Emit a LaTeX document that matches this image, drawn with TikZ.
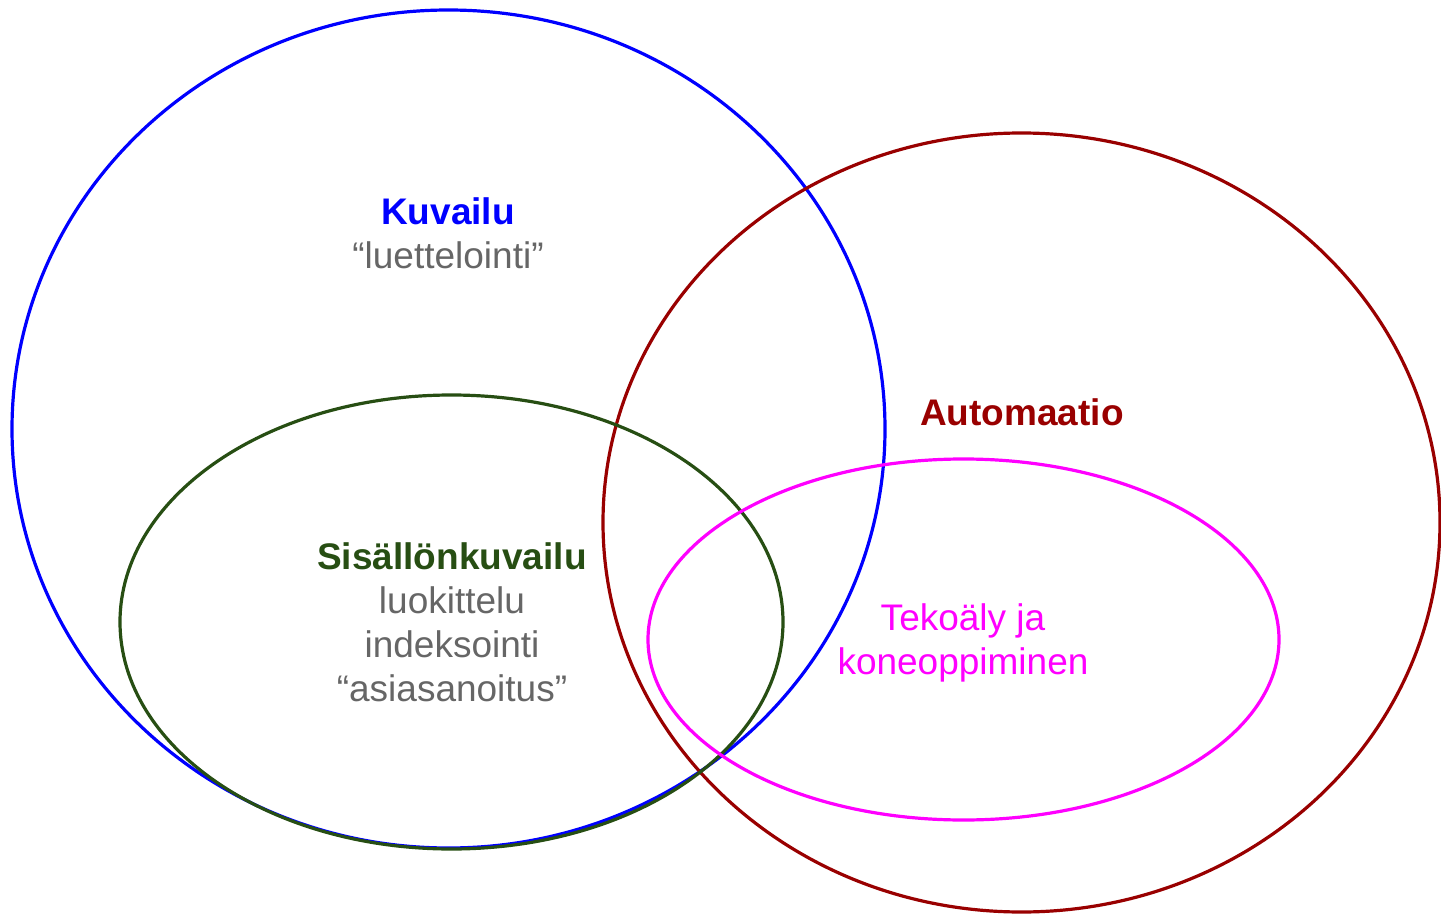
\documentclass[tikz,border=0pt]{standalone}
\usepackage{fontspec}
\setmainfont{Liberation Sans}
\definecolor{cblue}{RGB}{0,0,255}
\definecolor{cred}{RGB}{153,0,0}
\definecolor{cgreen}{RGB}{39,78,19}
\definecolor{cmag}{RGB}{255,0,255}
\definecolor{cgray}{RGB}{102,102,102}
\begin{document}
\begin{tikzpicture}[x=1pt,y=-1pt,
  ring/.style={line width=3.2pt},
  txt/.style={inner sep=0pt,anchor=base,font=\fontsize{37}{44}\selectfont},
  title/.style={txt,font=\fontsize{37}{44}\selectfont\bfseries}]
\useasboundingbox (0,0) rectangle (1441,915);
\draw[ring,cblue] (448.5,429) ellipse [x radius=436.5, y radius=419];
\draw[ring,cred] (1021.5,522.5) ellipse [x radius=418.5, y radius=389.5];
\draw[ring,cgreen] (451.5,622) ellipse [x radius=331.5, y radius=227];
\draw[ring,cmag] (963.5,639.5) ellipse [x radius=315.5, y radius=180.5];
\node[title,cblue] (kuv) at (448,224) {Kuvailu};
\node[txt,cgray] (lue) at (448,268) {“luettelointi”};
\node[title,cred] (aut) at (1022,425) {Automaatio};
\node[title,cgreen] (sis) at (452,569) {Sisällönkuvailu};
\node[txt,cgray] (luo) at (452,613) {luokittelu};
\node[txt,cgray] (ind) at (452,657) {indeksointi};
\node[txt,cgray] (asi) at (452,701) {“asiasanoitus”};
\node[txt,cmag] (tek) at (963,630) {Tekoäly ja};
\node[txt,cmag] (kon) at (963,674) {koneoppiminen};
\end{tikzpicture}
\end{document}
